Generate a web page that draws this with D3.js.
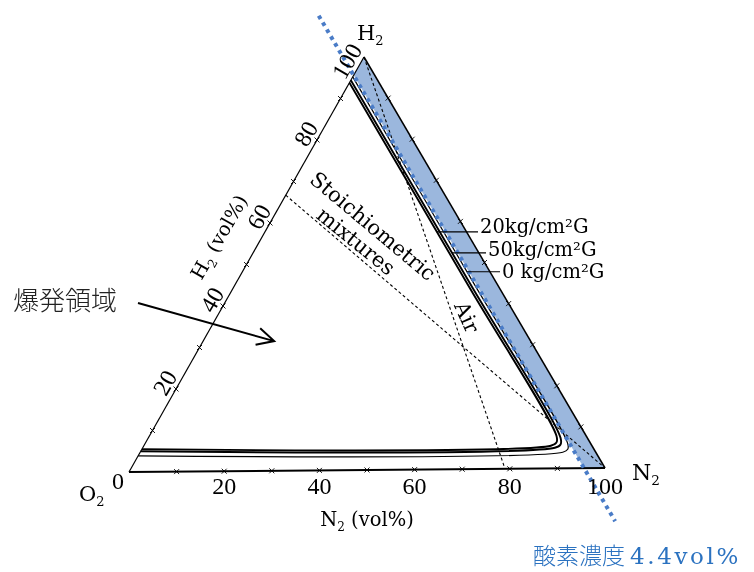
<!DOCTYPE html>
<html><head><meta charset="utf-8">
<script src="https://cdn.jsdelivr.net/npm/d3@7"></script>
<style>body{margin:0;background:#fff}svg{display:block}</style>
</head><body>
<svg id="c" width="754" height="572"></svg>
<script>
// ---------------- data (vol%) ----------------
const bottomTickLabels = [0, 20, 40, 60, 80, 100];   // N2 (vol%)
const leftTickLabels   = [20, 40, 60, 80, 100];      // H2 (vol%)
const minorTicks = [10, 20, 30, 40, 50, 60, 70, 80, 90];
// explosion-limit envelopes, points as [N2, H2] (vol%)
const curve20kg = [[0, 93.8], [50, 43.8], [85.9, 7.9], [86.7, 6.3], [85.9, 5.5], [0, 5.5]];
const curve50kg = [[0, 94.4], [50, 44.4], [87.0, 7.4], [87.8, 5.8], [87.0, 5.0], [0, 5.0]];
const curve0kg  = [[0, 95.2], [50, 45.2], [89.2, 6.0], [89.9, 4.6], [89.2, 3.9], [0, 3.9]];
const curveNames = ["20kg/cm²G", "50kg/cm²G", "0 kg/cm²G"];
const leaderH2   = [57.5, 52.4, 47.8];                // H2 level where each leader touches its curve
// reference lines
const airLine    = [[0, 100], [79, 0]];               // H2 + air (N2:O2 = 79:21)
const stoichLine = [[0, 66.7], [100, 0]];             // 2H2 + O2 diluted by N2
// oxygen concentration limit
const o2Limit = 4.4;
const o2LineN2Extent = [-14.5, 108.5];
const arrowTarget = [15, 31.4];                       // [N2, H2] pointed by 爆発領域 arrow

// ---------------- layout ----------------
const V = {O: [129, 472], N: [605, 468], H: [364, 57]};
const s = d3.scaleLinear().domain([0, 100]).range([0, 1]);
const proj = ([n, h]) => [
  V.O[0] + s(n) * (V.N[0] - V.O[0]) + s(h) * (V.H[0] - V.O[0]),
  V.O[1] + s(n) * (V.N[1] - V.O[1]) + s(h) * (V.H[1] - V.O[1])
];
const svg = d3.select("#c");
const lin = d3.line();
const serif = "'DejaVu Serif', serif";

// triangle edges
svg.append("path").attr("d", lin([proj([0,0]), proj([100,0])]))
  .attr("stroke", "#000").attr("stroke-width", 2).attr("fill", "none");
svg.append("path").attr("d", lin([proj([0,0]), proj([0,100])]))
  .attr("stroke", "#000").attr("stroke-width", 1.2).attr("fill", "none");
svg.append("path").attr("d", lin([proj([0,100]), proj([100,0])]))
  .attr("stroke", "#000").attr("stroke-width", 1.5).attr("fill", "none");

// minor tick crosses
const tickPts = [];
minorTicks.forEach(v => { tickPts.push([v, 0]); tickPts.push([0, v]); tickPts.push([100 - v, v]); });
svg.append("g").selectAll("path").data(tickPts).join("path")
  .attr("transform", d => `translate(${proj(d)})`)
  .attr("d", "M-2.5,-2.5L2.5,2.5M-2.5,2.5L2.5,-2.5")
  .attr("stroke", "#000").attr("stroke-width", 0.9);

// dashed reference lines
[airLine, stoichLine].forEach(L => {
  svg.append("path").attr("d", lin(L.map(proj)))
    .attr("stroke", "#000").attr("stroke-width", 1.1).attr("stroke-dasharray", "3,2.5").attr("fill", "none");
});

// explosion envelopes
const cl = d3.line().curve(d3.curveCatmullRom.alpha(0.5));
[[curve20kg, 1.9], [curve50kg, 1.9], [curve0kg, 1.2]].forEach(([c, w]) => {
  svg.append("path").attr("d", cl(c.map(proj)))
    .attr("stroke", "#000").attr("stroke-width", w).attr("fill", "none");
});

// O2 4.4% band
const band = [[0, 100 - o2Limit], [0, 100], [100, 0], [100 - o2Limit, 0]];
svg.append("path").attr("d", lin(band.map(proj)) + "Z")
  .attr("fill", "#9bb7dd").style("mix-blend-mode", "multiply");
svg.append("path")
  .attr("d", lin(o2LineN2Extent.map(n => proj([n, 100 - o2Limit - n]))))
  .attr("stroke", "#4a7cc7").attr("stroke-width", 4).attr("stroke-dasharray", "3.8,4.2").attr("fill", "none");

// leaders + labels
const curves = [curve20kg, curve50kg, curve0kg];
const labelPos = [[480, 233], [488, 256], [502, 278]];
curves.forEach((c, i) => {
  const o = 100 - c[0][1];             // O2 of the right side
  const h = leaderH2[i];
  const p = proj([100 - o - h, h]);
  svg.append("path").attr("d", lin([p, [labelPos[i][0] - 2, p[1]]]))
    .attr("stroke", "#000").attr("stroke-width", 1.2);
  svg.append("text").attr("x", labelPos[i][0]).attr("y", labelPos[i][1])
    .attr("font-family", serif).attr("font-size", 19.5).attr("fill", "#000")
    .text(curveNames[i]);
});

// helper for subscript text
function sub(t, base, s2, rest) {
  t.append("tspan").text(base);
  t.append("tspan").text(s2).attr("font-size", "0.62em").attr("dy", 5);
  if (rest) t.append("tspan").text(rest).attr("dy", -5);
}

// vertex labels
sub(svg.append("text").attr("x", 357).attr("y", 40).attr("font-family", serif).attr("font-size", 21), "H", "2");
sub(svg.append("text").attr("x", 79).attr("y", 501).attr("font-family", serif).attr("font-size", 21), "O", "2");
sub(svg.append("text").attr("x", 632).attr("y", 480).attr("font-family", serif).attr("font-size", 22), "N", "2");

// bottom tick labels
svg.append("g").selectAll("text").data(bottomTickLabels).join("text")
  .attr("x", d => d === 0 ? proj([0,0])[0] - 11 : proj([d,0])[0])
  .attr("y", d => d === 0 ? 489 : 494)
  .attr("text-anchor", "middle").attr("font-family", "'Liberation Serif', serif").attr("font-size", 24)
  .text(d => d);
// left tick labels (outside the left edge, rotated along it)
const ex = V.H[0] - V.O[0], ey = V.H[1] - V.O[1], el = Math.hypot(ex, ey);
const ux = ex / el, uy = ey / el, nx = uy, ny = -ux;   // n points outward (left/up)
svg.append("g").selectAll("text").data(leftTickLabels).join("text")
  .attr("transform", d => {
    const p = proj([0, d]);
    const along = d === 100 ? -12 : 0;
    return `translate(${p[0] + nx * 13 + ux * along},${p[1] + ny * 13 + uy * along}) rotate(-60)`;
  })
  .attr("text-anchor", "middle").attr("dy", "0.35em")
  .attr("font-family", "'Liberation Serif', serif").attr("font-size", 24)
  .text(d => d);

// axis titles
const t1 = svg.append("text").attr("x", 367).attr("y", 526).attr("text-anchor", "middle")
  .attr("font-family", serif).attr("font-size", 19.5);
sub(t1, "N", "2", " (vol%)");
const t2 = svg.append("text").attr("transform", "translate(219,237) rotate(-60)").attr("text-anchor", "middle")
  .attr("dy", "0.35em").attr("font-family", serif).attr("font-size", 19.5);
sub(t2, "H", "2", " (vol%)");

// line annotations
svg.append("text").attr("transform", "translate(373,226) rotate(40)").attr("text-anchor", "middle")
  .attr("dy", "0.35em").attr("font-family", serif).attr("font-size", 21).text("Stoichiometric");
svg.append("text").attr("transform", "translate(356,241) rotate(39)").attr("text-anchor", "middle")
  .attr("dy", "0.35em").attr("font-family", serif).attr("font-size", 21).text("mixtures");
svg.append("text").attr("transform", "translate(467,317) rotate(66)").attr("text-anchor", "middle")
  .attr("dy", "0.35em").attr("font-family", serif).attr("font-size", 21).text("Air");

// 爆発領域 + arrow
svg.append("text").attr("x", 13).attr("y", 310)
  .attr("font-family", "'Noto Sans CJK JP', sans-serif").attr("font-weight", 300)
  .attr("font-size", 26).attr("fill", "#222").text("爆発領域");
const a0 = [138, 303], a1 = proj(arrowTarget);
const ang = Math.atan2(a1[1] - a0[1], a1[0] - a0[0]);
const hl = 19, ha = 0.47;
svg.append("path")
  .attr("d", lin([a0, a1]) + "M" + [a1[0] - hl * Math.cos(ang - ha), a1[1] - hl * Math.sin(ang - ha)] +
    "L" + a1 + "L" + [a1[0] - hl * Math.cos(ang + ha), a1[1] - hl * Math.sin(ang + ha)])
  .attr("stroke", "#000").attr("stroke-width", 2).attr("fill", "none");

// 酸素濃度 label
const bt = svg.append("text").attr("x", 533).attr("y", 564).attr("fill", "#2b72c0").attr("font-size", 23);
bt.append("tspan").attr("font-family", "'Noto Sans CJK JP', sans-serif").attr("font-weight", 300).text("酸素濃度 ");
bt.append("tspan").attr("font-family", serif).attr("letter-spacing", 2.6).text("4.4vol%");
</script>
</body></html>
